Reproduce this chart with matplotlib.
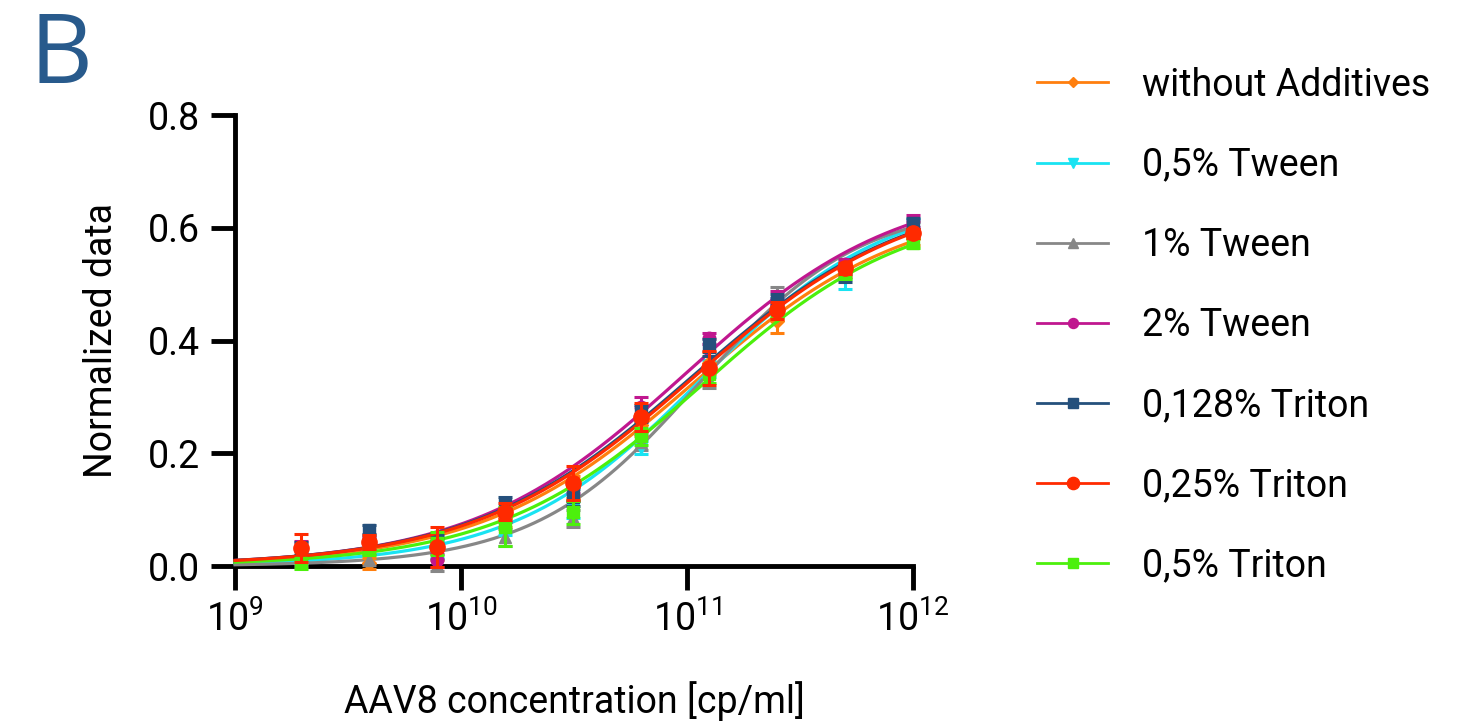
import numpy as np
import matplotlib.pyplot as plt
from matplotlib.lines import Line2D

plt.rcParams['font.family'] = ['Roboto', 'DejaVu Sans']
plt.rcParams['mathtext.fontset'] = 'custom'
plt.rcParams['mathtext.rm'] = 'Roboto'

# AAV8 dilution series (cp/ml)
conc = [1.953e9, 3.906e9, 7.8125e9, 1.5625e10, 3.125e10, 6.25e10,
        1.25e11, 2.5e11, 5e11, 1e12]

labels = ["without Additives", "0,5% Tween", "1% Tween", "2% Tween",
          "0,128% Triton", "0,25% Triton", "0,5% Triton"]
colors = ["#ff7f0e", "#19e3f2", "#878787", "#c0178f", "#25507c", "#ff2a00", "#4cf00c"]
markers = ["D", "v", "^", "o", "s", "o", "s"]
msizes = [7, 9, 9, 9, 9, 11, 9]

# mean normalized signal per concentration
y_without = [0.020, 0.005, 0.030, 0.085, 0.140, 0.250, 0.360, 0.435, 0.525, 0.580]
y_tw05 = [0.020, 0.040, 0.030, 0.067, 0.100, 0.210, 0.350, 0.460, 0.510, 0.605]
y_tw1 = [0.010, 0.011, 0.002, 0.051, 0.085, 0.220, 0.330, 0.480, 0.530, 0.600]
y_tw2 = [0.030, 0.040, 0.010, 0.090, 0.130, 0.282, 0.404, 0.475, 0.535, 0.612]
y_tr0128 = [0.030, 0.064, 0.043, 0.110, 0.122, 0.271, 0.388, 0.468, 0.516, 0.608]
y_tr025 = [0.032, 0.043, 0.034, 0.096, 0.147, 0.264, 0.351, 0.454, 0.528, 0.590]
y_tr05 = [0.005, 0.030, 0.040, 0.070, 0.095, 0.230, 0.340, 0.450, 0.520, 0.573]

# standard deviations
e_without = [0.015, 0.010, 0.020, 0.015, 0.020, 0.020, 0.020, 0.022, 0.012, 0.010]
e_tw05 = [0.015, 0.012, 0.015, 0.012, 0.015, 0.012, 0.015, 0.015, 0.018, 0.010]
e_tw1 = [0.010, 0.010, 0.010, 0.015, 0.015, 0.015, 0.015, 0.015, 0.012, 0.010]
e_tw2 = [0.015, 0.012, 0.012, 0.012, 0.015, 0.018, 0.010, 0.012, 0.010, 0.010]
e_tr0128 = [0.012, 0.008, 0.012, 0.012, 0.015, 0.015, 0.015, 0.015, 0.012, 0.010]
e_tr025 = [0.025, 0.012, 0.035, 0.015, 0.030, 0.025, 0.030, 0.015, 0.010, 0.008]
e_tr05 = [0.010, 0.010, 0.020, 0.035, 0.020, 0.015, 0.015, 0.010, 0.010, 0.008]

means = [y_without, y_tw05, y_tw1, y_tw2, y_tr0128, y_tr025, y_tr05]
errs = [e_without, e_tw05, e_tw1, e_tw2, e_tr0128, e_tr025, e_tr05]

# 4PL fit parameters: bottom, top, logEC50, hill slope
fit_bottom = [0.0, 0.0, 0.0, 0.0, 0.0, 0.0, 0.0]
fit_top = [0.650, 0.660, 0.645, 0.680, 0.670, 0.670, 0.645]
fit_logec50 = [11.03, 11.06, 11.05, 10.99, 11.02, 11.03, 11.07]
fit_hill = [0.92, 1.05, 1.20, 0.92, 0.90, 0.90, 0.95]

zorders = [3, 3, 3, 4, 5, 7, 6]

fig = plt.figure(figsize=(14.82, 7.28), dpi=100)
ax = fig.add_axes([0.1586, 0.2225, 0.4575, 0.6195])

xfit = np.logspace(9, 12, 300)
for i in range(len(labels)):
    b, t, c, h = fit_bottom[i], fit_top[i], fit_logec50[i], fit_hill[i]
    yfit = b + (t - b) / (1 + 10 ** ((c - np.log10(xfit)) * h))
    ax.plot(xfit, yfit, color=colors[i], lw=2.3, zorder=zorders[i], clip_on=False)
    ax.errorbar(conc, means[i], yerr=errs[i], fmt=markers[i], color=colors[i],
                ms=msizes[i], capsize=5, capthick=2.2, elinewidth=2.2,
                zorder=zorders[i] + 1, clip_on=False)

ax.set_xscale('log')
ax.set_xlim(1e9, 1e12)
ax.set_ylim(0, 0.8)
ax.set_xticks([1e9, 1e10, 1e11, 1e12])
ax.minorticks_off()
ax.set_yticks([0.0, 0.2, 0.4, 0.6, 0.8])
ax.set_yticklabels(["0.0", "0.2", "0.4", "0.6", "0.8"])

for side in ['top', 'right']:
    ax.spines[side].set_visible(False)
for side in ['left', 'bottom']:
    ax.spines[side].set_linewidth(3.5)
ax.tick_params(axis='both', which='major', length=17, width=3.5, labelsize=27, pad=8)

ax.set_xlabel("AAV8 concentration [cp/ml]", fontsize=27, labelpad=30)
ax.set_ylabel("Normalized data", fontsize=27, labelpad=20)

fig.text(0.02, 0.988, "B", fontsize=70, color="#285a8c", family="Open Sans",
         va="top", ha="left")

handles = [Line2D([], [], color=colors[i], marker=markers[i], lw=2,
                  ms=msizes[i] * 0.8) for i in range(len(labels))]
fig.legend(handles, labels, loc='upper left', bbox_to_anchor=(0.677, 0.955),
           frameon=False, fontsize=27, handlelength=1.9, handletextpad=0.9,
           labelspacing=1.15)

fig.savefig("out.png", dpi=100)
